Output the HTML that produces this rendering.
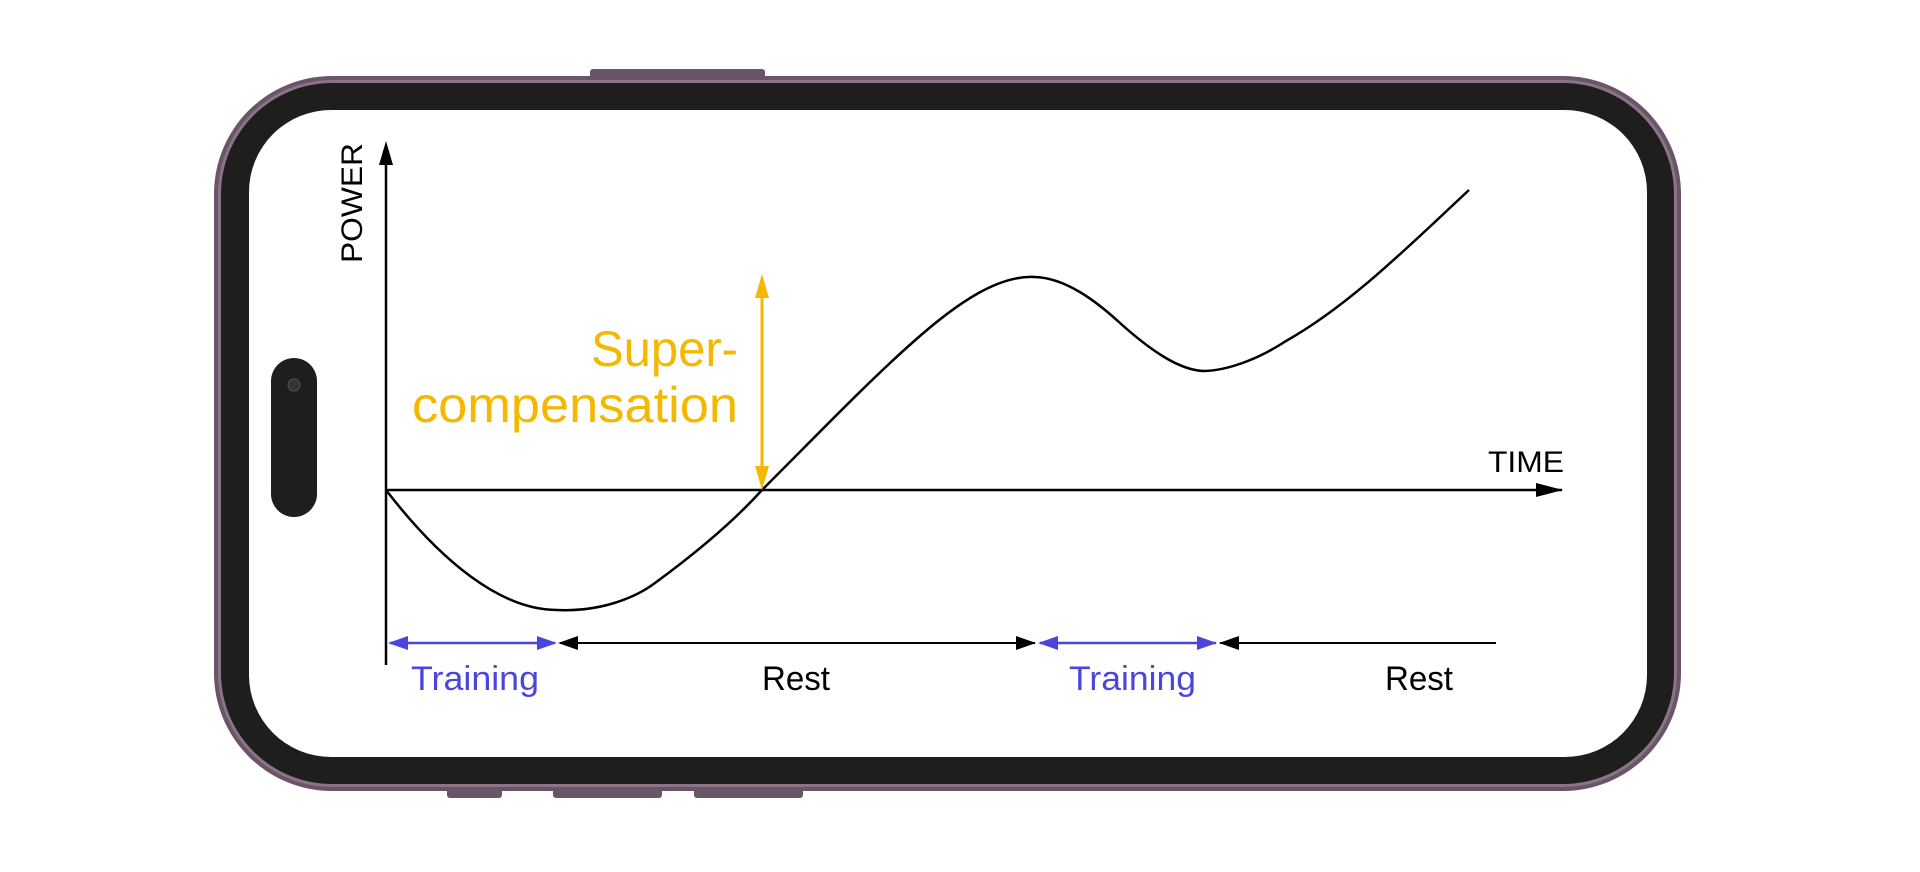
<!DOCTYPE html>
<html><head><meta charset="utf-8"><style>html,body{margin:0;padding:0;background:#fff;width:1920px;height:872px;overflow:hidden}</style></head>
<body>
<svg width="1920" height="872" viewBox="0 0 1920 872" xmlns="http://www.w3.org/2000/svg" font-family="Liberation Sans, sans-serif">
<defs>
<marker id="ab" viewBox="0 0 10 10" refX="9" refY="5" markerWidth="7" markerHeight="7" orient="auto-start-reverse" markerUnits="userSpaceOnUse"><path d="M0,0L10,5L0,10z" fill="#000"/></marker>
</defs>
<!-- buttons -->
<rect x="590" y="69" width="175" height="12" rx="3" fill="#6a5468"/>
<rect x="447" y="786" width="55" height="12" rx="3" fill="#6a5468"/>
<rect x="553" y="786" width="109" height="12" rx="3" fill="#6a5468"/>
<rect x="694" y="786" width="109" height="12" rx="3" fill="#6a5468"/>
<!-- phone -->
<rect x="214" y="76" width="1467" height="715" rx="118" fill="#6a5468"/>
<rect x="218" y="80" width="1459" height="707" rx="114" fill="#8a7488"/>
<rect x="221" y="83" width="1453" height="701" rx="111" fill="#1e1e1c"/>
<rect x="249" y="110" width="1398" height="647" rx="82" fill="#fff"/>
<rect x="271" y="358" width="46" height="159" rx="23" fill="#1e1e1c"/>
<circle cx="294" cy="385" r="6" fill="#333" stroke="#555" stroke-width="1"/>
<!-- axes -->
<line x1="386" y1="665" x2="386" y2="146" stroke="#000" stroke-width="2.5" marker-end="url(#ab)"/>
<line x1="386" y1="490" x2="1562" y2="490" stroke="#000" stroke-width="2.5"/>
<path d="M1536,483L1563,490L1536,497z" fill="#000"/>
<path d="M386,141L379,165L393,165z" fill="#000"/>
<text transform="translate(362,263) rotate(-90)" font-size="30" textLength="120" lengthAdjust="spacingAndGlyphs">POWER</text>
<text x="1488" y="472" font-size="30" textLength="76" lengthAdjust="spacingAndGlyphs">TIME</text>
<!-- curve -->
<path d="M386,490 C440,560 500,610 557,610 C600,612 635,598 655,583 C700,550 735,520 762,490 C820,432 870,380 912,343 C960,300 1000,275 1035,277 C1065,278 1095,300 1120,323 C1150,350 1180,371 1205,371 C1230,370 1260,358 1286,341 C1350,305 1410,245 1469,190" fill="none" stroke="#000" stroke-width="2.5"/>
<!-- yellow arrow -->
<line x1="762" y1="285" x2="762" y2="480" stroke="#f5b800" stroke-width="3"/>
<path d="M762,274L755,298L769,298z" fill="#f5b800"/>
<path d="M762,490L755,466L769,466z" fill="#f5b800"/>
<text x="738" y="366" font-size="50" fill="#f5b800" text-anchor="end" textLength="147" lengthAdjust="spacingAndGlyphs">Super-</text>
<text x="738" y="422" font-size="50" fill="#f5b800" text-anchor="end" textLength="326" lengthAdjust="spacingAndGlyphs">compensation</text>
<!-- phase arrows -->
<line x1="390" y1="643" x2="555" y2="643" stroke="#4b45e0" stroke-width="2.5"/>
<path d="M388,643L408,636L408,650z" fill="#4b45e0"/><path d="M557,643L537,636L537,650z" fill="#4b45e0"/>
<line x1="560" y1="643" x2="1035" y2="643" stroke="#000" stroke-width="2"/>
<path d="M558,643L578,636L578,650z" fill="#000"/><path d="M1036,643L1016,636L1016,650z" fill="#000"/>
<line x1="1040" y1="643" x2="1216" y2="643" stroke="#4b45e0" stroke-width="2.5"/>
<path d="M1038,643L1058,636L1058,650z" fill="#4b45e0"/><path d="M1217,643L1197,636L1197,650z" fill="#4b45e0"/>
<line x1="1220" y1="643" x2="1496" y2="643" stroke="#000" stroke-width="2"/>
<path d="M1219,643L1239,636L1239,650z" fill="#000"/>
<text x="411" y="690" font-size="34" fill="#4b45e0" textLength="128" lengthAdjust="spacingAndGlyphs">Training</text>
<text x="762" y="690" font-size="34" fill="#000" textLength="68" lengthAdjust="spacingAndGlyphs">Rest</text>
<text x="1069" y="690" font-size="34" fill="#4b45e0" textLength="127" lengthAdjust="spacingAndGlyphs">Training</text>
<text x="1385" y="690" font-size="34" fill="#000" textLength="68" lengthAdjust="spacingAndGlyphs">Rest</text>
</svg>
</body></html>
